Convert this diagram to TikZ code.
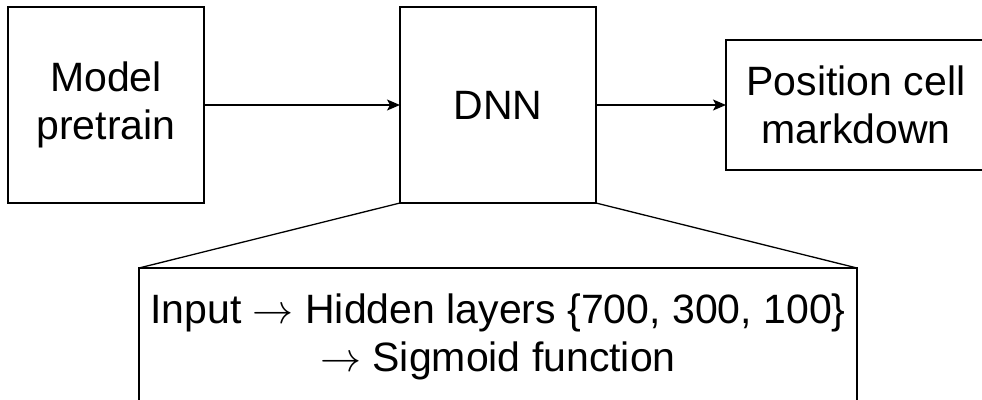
\RequirePackage{fix-cm}
\documentclass[tikz,border=0pt]{standalone}
\usepackage{fontspec}
\setmainfont{Liberation Sans}
\usepackage{tikz}
\usetikzlibrary{arrows.meta, positioning, calc}
\definecolor{dnnline}{HTML}{000000}
\tikzset{
  >={Stealth[length=13pt, width=11pt, inset=3pt]},
  box/.style={rectangle, draw=dnnline, line width=1.3pt, fill=white, outer sep=0pt,
              align=center, inner sep=4pt, font=\fontsize{41}{48}\selectfont},
  sqbox/.style={box, minimum width=196pt, minimum height=196pt},
  flow/.style={->, line width=1.3pt, draw=dnnline},
  zoomline/.style={line width=1.3pt, draw=dnnline},
}

\begin{document}
\begin{tikzpicture}[x=1pt,y=-1pt]
  \useasboundingbox (0,0) rectangle (982,399);
  \node[sqbox] (pretrain) at (106,105) {Model\\pretrain};
  \node[sqbox] (dnn) at (498,105) {DNN};
  \node[box, minimum width=260pt, minimum height=130pt] (markdown) at (856,105) {Position cell\\markdown};
  \node[box, minimum width=718pt, minimum height=137pt] (layers) at (498,336.5)
    {Input $\rightarrow$ Hidden layers \{700, 300, 100\}\\$\rightarrow$ Sigmoid function};
  \draw[flow] (pretrain) -- (dnn);
  \draw[flow] (dnn) -- (markdown);
  % detail of the DNN block
  \draw[zoomline] (dnn.south west) -- (layers.north west);
  \draw[zoomline] (dnn.south east) -- (layers.north east);
\end{tikzpicture}
\end{document}
